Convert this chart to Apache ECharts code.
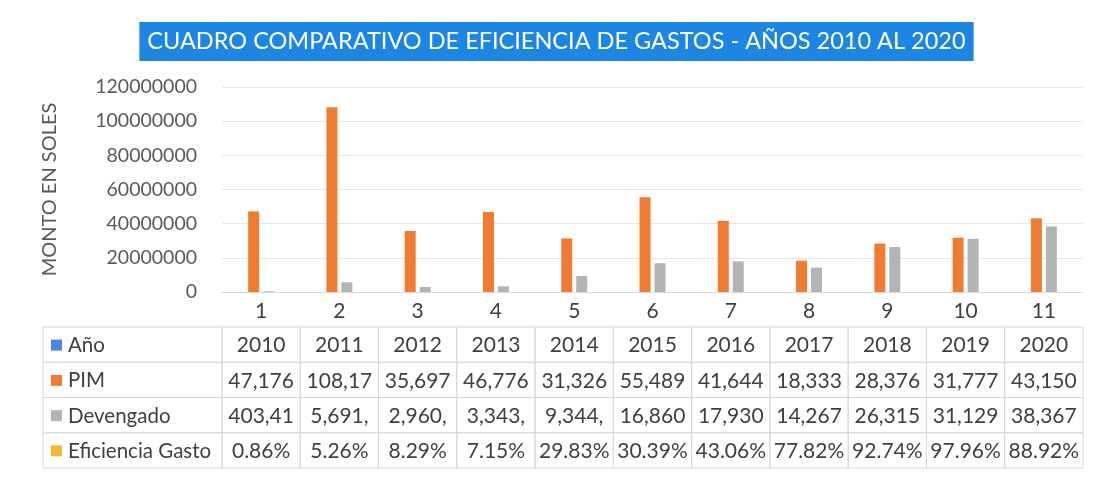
<!DOCTYPE html>
<html>
<head>
<meta charset="utf-8">
<script src="https://cdn.jsdelivr.net/npm/echarts@6/dist/echarts.min.js"></script>
<style>
html, body { margin: 0; padding: 0; background: #fff; }
#chart { width: 1113px; height: 483px; }
</style>
</head>
<body>
<div id="chart"></div>
<script>
var categorias = ['1', '2', '3', '4', '5', '6', '7', '8', '9', '10', '11'];
var anios = [2010, 2011, 2012, 2013, 2014, 2015, 2016, 2017, 2018, 2019, 2020];
var pim = [47176210, 108170450, 35697320, 46776150, 31326480, 55489210, 41644370, 18333520, 28376140, 31777290, 43150610];
var devengado = [403412, 5691240, 2960180, 3343560, 9344720, 16860330, 17930470, 14267150, 26315880, 31129640, 38367420];
var eficiencia = [0.0086, 0.0526, 0.0829, 0.0715, 0.2983, 0.3039, 0.4306, 0.7782, 0.9274, 0.9796, 0.8892];
var yMax = 120000000, yStep = 20000000;

var FONT = 'Lato';
var colAnio = '#4a86dc', colPim = '#f07b32', colDev = '#b4b4b4', colEf = '#f6b833';

// texto de la tabla: Excel corta las celdas a 6 caracteres
var corta = function (v) { return v.toLocaleString('en-US').slice(0, 6); };
var filas = [
    { name: 'Año', color: colAnio, cells: anios.map(String) },
    { name: 'PIM', color: colPim, cells: pim.map(corta) },
    { name: 'Devengado', color: colDev, cells: devengado.map(corta) },
    { name: 'Eficiencia Gasto', color: colEf, cells: eficiencia.map(function (v) { return (v * 100).toFixed(2) + '%'; }) }
];

var cellW = (1083 - 222) / categorias.length;
var headMin = -(222 - 43) / cellW;

var tablaData = [];
filas.forEach(function (f, r) {
    tablaData.push([-1, r]);
    f.cells.forEach(function (t, c) { tablaData.push([c, r]); });
});

var renderCell = function (params, api) {
    var c = api.value(0), r = api.value(1);
    var x0 = api.coord([c < 0 ? headMin : c, r])[0];
    var x1 = api.coord([c < 0 ? 0 : c + 1, r])[0];
    var y0 = api.coord([0, r])[1];
    var y1 = api.coord([0, r + 1])[1];
    var ym = (y0 + y1) / 2;
    var borde = { type: 'rect', shape: { x: x0, y: y0, width: x1 - x0, height: y1 - y0 },
        style: { fill: null, stroke: '#d8d8d8', lineWidth: 1 } };
    if (c < 0) {
        return { type: 'group', children: [
            borde,
            { type: 'rect', shape: { x: x0 + 8, y: ym - 5, width: 11, height: 11 }, style: { fill: filas[r].color } },
            { type: 'text', style: { x: x0 + 25, y: ym + 1, text: filas[r].name, fill: '#404040',
                font: '20.5px ' + FONT, textAlign: 'left', textVerticalAlign: 'middle' } }
        ] };
    }
    return { type: 'group', children: [
        borde,
        { type: 'text', style: { x: (x0 + x1) / 2, y: ym + 1, text: filas[r].cells[c], fill: '#404040',
            font: '21px ' + FONT, textAlign: 'center', textVerticalAlign: 'middle' } }
    ] };
};

var chart = echarts.init(document.getElementById('chart'));
var option = {
    backgroundColor: '#fff',
    animation: false,
    textStyle: { fontFamily: FONT },
    title: {
        text: 'CUADRO COMPARATIVO DE EFICIENCIA DE GASTOS - AÑOS 2010 AL 2020',
        left: 'center',
        top: 22,
        backgroundColor: '#1d86e3',
        padding: [7, 8, 8, 8],
        textStyle: { color: '#fff', fontSize: 23.5, fontWeight: 'normal', fontFamily: FONT }
    },
    grid: [
        { left: 222, right: 30, top: 87, bottom: 191 },
        { left: 43, right: 30, top: 327, bottom: 15 }
    ],
    xAxis: [{
        type: 'category',
        gridIndex: 0,
        data: categorias,
        axisLine: { lineStyle: { color: '#d8d8d8' } },
        axisTick: { length: 35, lineStyle: { color: '#d8d8d8' } },
        axisLabel: { color: '#404040', fontSize: 21, margin: 9 }
    }, {
        type: 'value',
        gridIndex: 1,
        min: headMin,
        max: categorias.length,
        show: false
    }],
    yAxis: [{
        type: 'value',
        gridIndex: 0,
        min: 0,
        max: yMax,
        interval: yStep,
        name: 'MONTO EN SOLES',
        nameLocation: 'middle',
        nameGap: 162,
        nameTextStyle: { color: '#595959', fontSize: 20 },
        axisLine: { show: false },
        axisTick: { show: false },
        axisLabel: { color: '#595959', fontSize: 19.5, margin: 25, formatter: function (v) { return String(v); } },
        splitLine: { lineStyle: { color: '#e6e6e6' } }
    }, {
        type: 'value',
        gridIndex: 1,
        min: 0,
        max: filas.length,
        inverse: true,
        show: false
    }],
    series: [
        { name: 'Año', type: 'bar', data: anios, barWidth: 11, barGap: '36%', itemStyle: { color: colAnio } },
        { name: 'PIM', type: 'bar', data: pim, barWidth: 11, barGap: '36%', itemStyle: { color: colPim } },
        { name: 'Devengado', type: 'bar', data: devengado, barWidth: 11, barGap: '36%', itemStyle: { color: colDev } },
        { name: 'Eficiencia Gasto', type: 'bar', data: eficiencia, barWidth: 11, barGap: '36%', itemStyle: { color: colEf } },
        {
            type: 'custom',
            xAxisIndex: 1,
            yAxisIndex: 1,
            data: tablaData,
            renderItem: renderCell,
            silent: true
        }
    ]
};
chart.setOption(option);
</script>
</body>
</html>
